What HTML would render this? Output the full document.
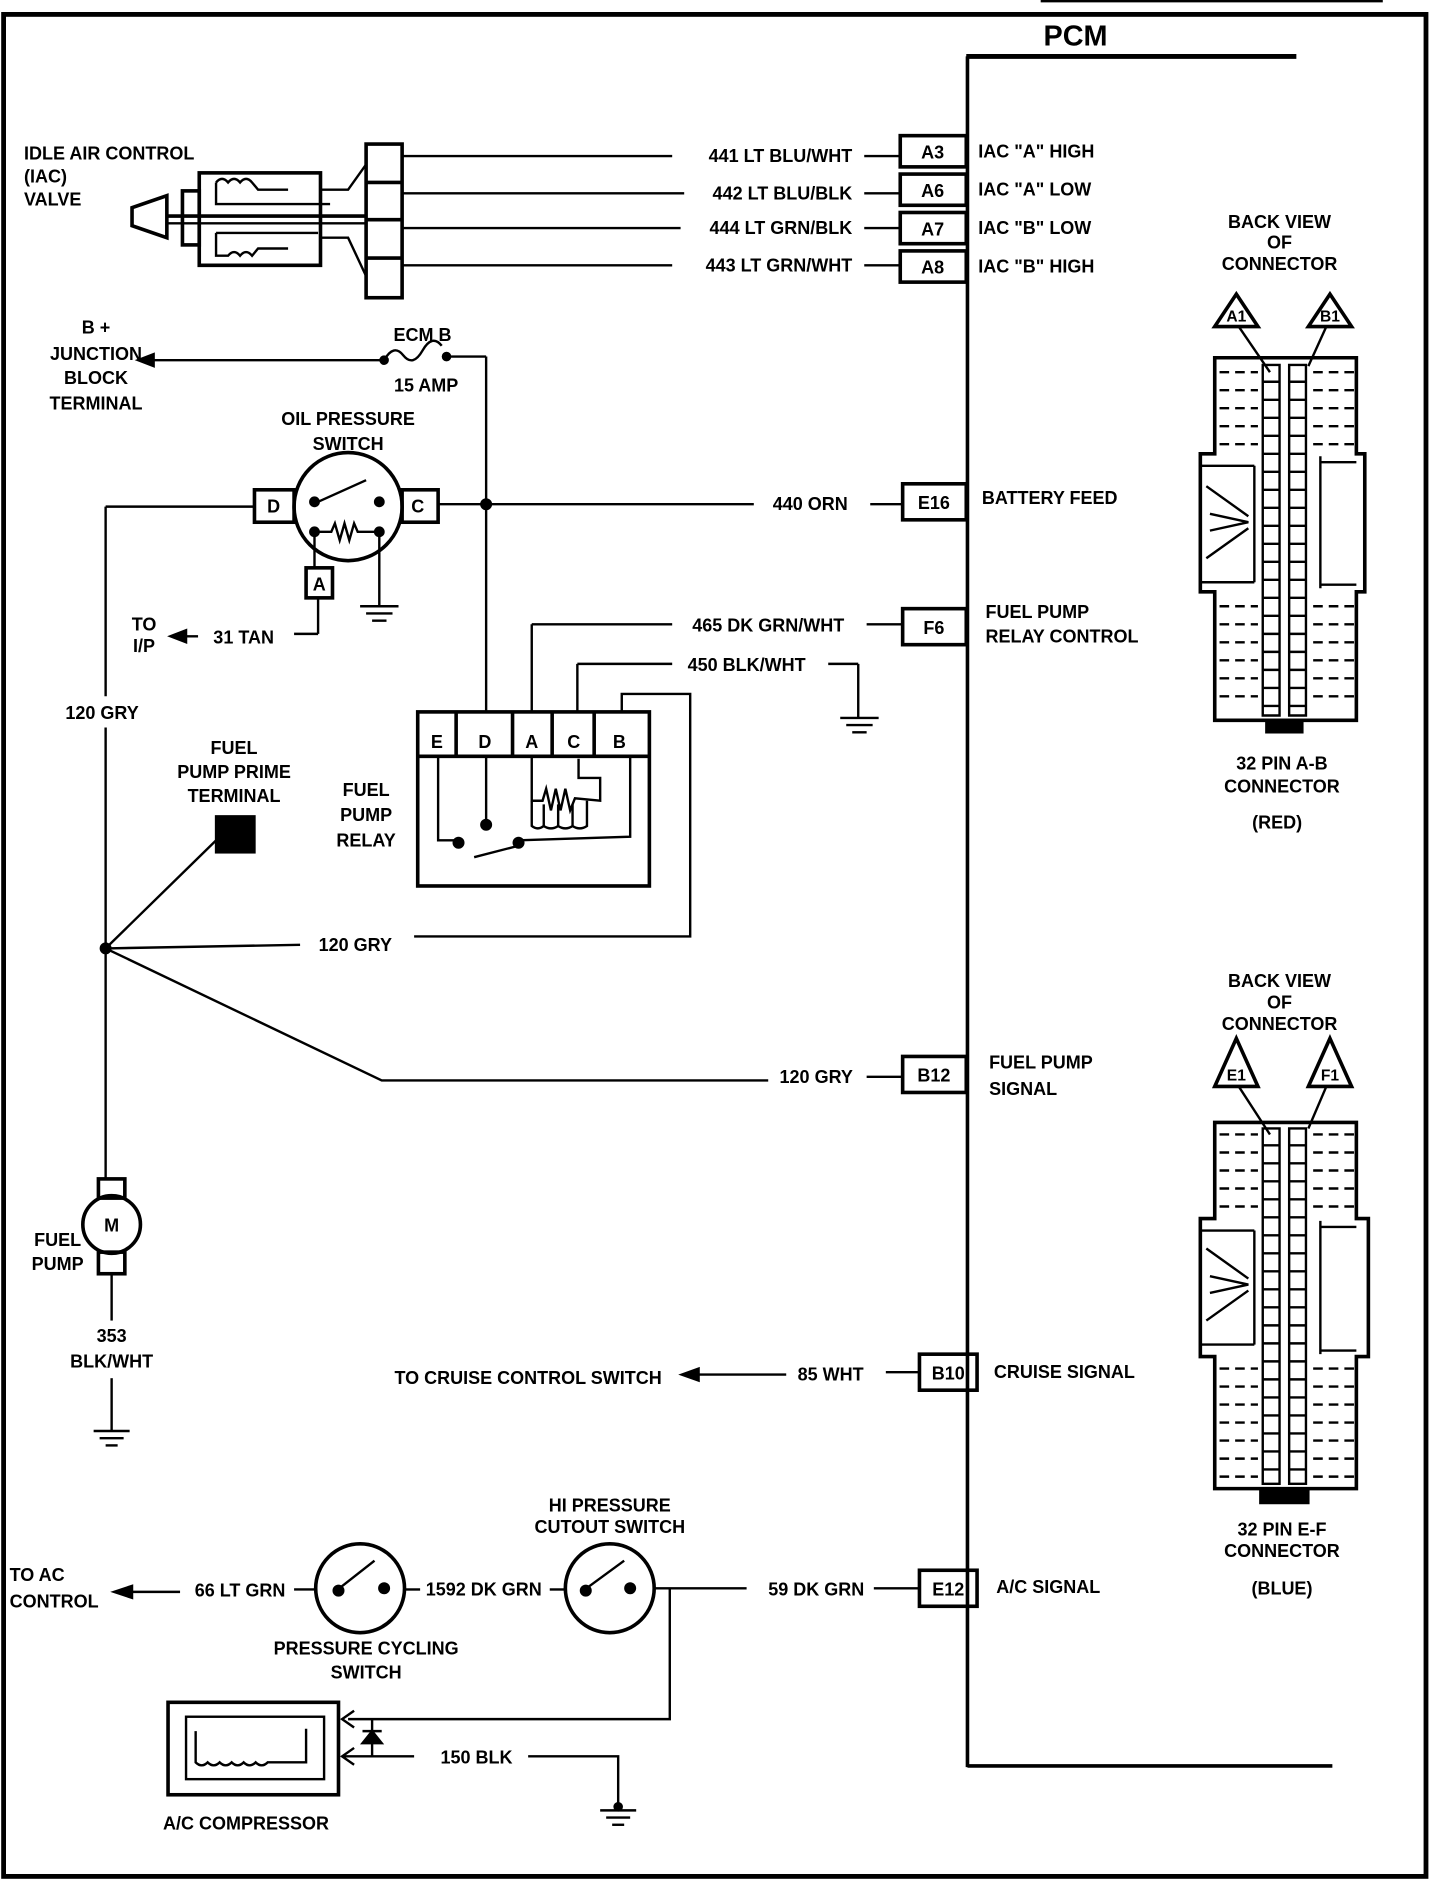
<!DOCTYPE html>
<html><head><meta charset="utf-8"><style>
html,body{margin:0;padding:0;background:#fff;}
svg{display:block;}
text{font-family:"Liberation Sans",sans-serif;font-weight:bold;font-size:15px;fill:#000;}
</style></head><body>
<svg width="1456" height="1886" viewBox="0 0 1213 1571" preserveAspectRatio="none" xmlns="http://www.w3.org/2000/svg">
<g fill="none" stroke="#000" stroke-width="2">
<rect x="3" y="12" width="1185" height="1551" stroke-width="4"/>
<line x1="867" y1="1" x2="1152" y2="1" stroke-width="2"/>
<line x1="805" y1="47" x2="1080" y2="47" stroke-width="4"/>
<line x1="806" y1="47" x2="806" y2="1472" stroke-width="3"/>
<line x1="806" y1="1471" x2="1110" y2="1471" stroke-width="3"/>
<rect x="750" y="113" width="55" height="26" stroke-width="3"/>
<rect x="750" y="145" width="55" height="26" stroke-width="3"/>
<rect x="750" y="177" width="55" height="26" stroke-width="3"/>
<rect x="750" y="209" width="55" height="26" stroke-width="3"/>
<rect x="752" y="403" width="53" height="30" stroke-width="3"/>
<rect x="752" y="507" width="53" height="30" stroke-width="3"/>
<rect x="752" y="880" width="53" height="30" stroke-width="3"/>
<rect x="766" y="1128" width="48" height="30" stroke-width="3"/>
<rect x="766" y="1308" width="48" height="30" stroke-width="3"/>
<line x1="335" y1="130" x2="560" y2="130"/><line x1="720" y1="130" x2="750" y2="130"/>
<line x1="335" y1="161" x2="570" y2="161"/><line x1="720" y1="161" x2="750" y2="161"/>
<line x1="335" y1="190" x2="567" y2="190"/><line x1="720" y1="190" x2="750" y2="190"/>
<line x1="335" y1="221" x2="560" y2="221"/><line x1="720" y1="221" x2="750" y2="221"/>
<rect x="305" y="120" width="30" height="128" stroke-width="3"/>
<line x1="305" y1="152" x2="335" y2="152" stroke-width="3"/>
<line x1="305" y1="183" x2="335" y2="183" stroke-width="3"/>
<line x1="305" y1="215" x2="335" y2="215" stroke-width="3"/>
<rect x="166" y="144" width="101" height="77" stroke-width="3"/>
<rect x="152" y="159" width="14" height="45" stroke-width="3"/>
<polygon points="139,163 139,198 110,188 110,173" stroke-width="3"/>
<line x1="139" y1="180" x2="305" y2="180" stroke-width="3"/>
<line x1="139" y1="186" x2="305" y2="186" stroke-width="2"/>
<path d="M180,152 L180,170 L275,170" stroke-width="2"/>
<path d="M180,152 q5,-6 10,0 q5,-6 10,0 q5,-6 10,0 l5,6 l25,0" stroke-width="2"/>
<path d="M267,158 L290,158 L305,137"/>
<path d="M180,194 L180,213 l10,0 q5,-6 10,0 q5,-6 10,0 l5,-6 l25,-0" stroke-width="2"/>
<path d="M180,194 L265,194"/>
<path d="M267,198 L290,198 L305,230"/>
<line x1="120" y1="300" x2="320" y2="300"/>
<polygon points="115,300 128,295 128,305" fill="#000"/>
<path d="M320,300 q8,-14 16,-4 t16,-4 t16,-4" />
<circle cx="320" cy="300" r="3" fill="#000"/><circle cx="372" cy="297" r="3" fill="#000"/>
<line x1="372" y1="297" x2="405" y2="297"/>
<line x1="405" y1="297" x2="405" y2="593"/>
<circle cx="405" cy="420" r="4" fill="#000"/>
<circle cx="290" cy="422" r="45" stroke-width="3"/>
<rect x="212" y="408" width="33" height="27" stroke-width="3"/>
<rect x="335" y="408" width="30" height="27" stroke-width="3"/>
<rect x="255" y="473" width="22" height="25" stroke-width="3"/>
<circle cx="262" cy="418" r="3.5" fill="#000"/><circle cx="316" cy="418" r="3.5" fill="#000"/>
<line x1="265" y1="418" x2="305" y2="400"/>
<circle cx="262" cy="443" r="3.5" fill="#000"/><circle cx="316" cy="443" r="3.5" fill="#000"/>
<path d="M262,443 L276,443 l3,-7 l4,14 l4,-14 l4,14 l4,-14 l3,7 L316,443"/>
<line x1="262" y1="443" x2="262" y2="473"/>
<line x1="316" y1="443" x2="316" y2="505"/>
<line x1="300" y1="505" x2="332" y2="505"/><line x1="305" y1="511" x2="327" y2="511"/><line x1="310" y1="517" x2="322" y2="517"/>
<line x1="365" y1="420" x2="628" y2="420"/><line x1="725" y1="420" x2="752" y2="420"/>
<line x1="212" y1="422" x2="88" y2="422"/>
<line x1="88" y1="422" x2="88" y2="580"/>
<line x1="88" y1="606" x2="88" y2="982"/>
<line x1="265" y1="498" x2="265" y2="528"/><line x1="265" y1="528" x2="245" y2="528"/>
<line x1="150" y1="530" x2="165" y2="530"/><polygon points="142,530 155,525 155,535" fill="#000"/>
<line x1="443" y1="520" x2="560" y2="520"/><line x1="443" y1="520" x2="443" y2="593"/>
<line x1="722" y1="520" x2="752" y2="520"/>
<line x1="481" y1="553" x2="560" y2="553"/><line x1="481" y1="553" x2="481" y2="593"/>
<line x1="690" y1="553" x2="715" y2="553"/><line x1="715" y1="553" x2="715" y2="598"/>
<line x1="700" y1="598" x2="732" y2="598"/><line x1="705" y1="604" x2="727" y2="604"/><line x1="710" y1="610" x2="722" y2="610"/>
<rect x="348" y="593" width="193" height="145" stroke-width="3"/>
<line x1="348" y1="630" x2="541" y2="630" stroke-width="3"/>
<line x1="380" y1="593" x2="380" y2="630" stroke-width="3"/>
<line x1="427" y1="593" x2="427" y2="630" stroke-width="3"/>
<line x1="460" y1="593" x2="460" y2="630" stroke-width="3"/>
<line x1="495" y1="593" x2="495" y2="630" stroke-width="3"/>
<path d="M365,630 L365,700 L380,700"/><circle cx="382" cy="702" r="4" fill="#000"/>
<line x1="405" y1="630" x2="405" y2="687"/><circle cx="405" cy="687" r="4" fill="#000"/>
<line x1="395" y1="714" x2="430" y2="705"/><circle cx="432" cy="702" r="4" fill="#000"/>
<path d="M432,700 L525,697 L525,630"/>
<path d="M518,593 L518,578 L575,578 L575,780 L345,780"/>
<path d="M443,630 L443,667 L452,667 l3,-10 l4,18 l4,-18 l4,18 l4,-18 l4,18 l4,-10 L500,667 L500,648 L482,648 L482,632"/>
<path d="M443,667 L443,688 q5,4 10,0 l0,-18 m0,18 q6,4 12,0 l0,-18 m0,18 q6,4 12,0 l0,-18 m0,18 q6,4 12,0 L489,667"/>
<circle cx="88" cy="790" r="4" fill="#000"/>
<line x1="88" y1="790" x2="250" y2="787"/>
<line x1="88" y1="790" x2="180" y2="700"/>
<rect x="180" y="680" width="32" height="30" fill="#000"/>
<path d="M88,790 L318,900 L640,900"/>
<line x1="722" y1="897" x2="752" y2="897"/>
<circle cx="93" cy="1020" r="24" stroke-width="3"/>
<rect x="82" y="982" width="22" height="16" stroke-width="3"/>
<rect x="82" y="1043" width="22" height="18" stroke-width="3"/>
<line x1="93" y1="1061" x2="93" y2="1100"/>
<line x1="93" y1="1148" x2="93" y2="1192"/>
<line x1="78" y1="1192" x2="108" y2="1192"/><line x1="83" y1="1198" x2="103" y2="1198"/><line x1="88" y1="1204" x2="98" y2="1204"/>
<line x1="578" y1="1145" x2="655" y2="1145"/><polygon points="568,1145 582,1140 582,1150" fill="#000"/>
<line x1="738" y1="1143" x2="766" y2="1143"/>
<line x1="545" y1="1323" x2="622" y2="1323"/><line x1="728" y1="1323" x2="766" y2="1323"/>
<circle cx="508" cy="1323" r="37" stroke-width="3"/>
<circle cx="488" cy="1325" r="4" fill="#000"/><circle cx="525" cy="1323" r="4" fill="#000"/>
<line x1="490" y1="1322" x2="520" y2="1300"/>
<line x1="458" y1="1324" x2="471" y2="1324"/>
<circle cx="300" cy="1323" r="37" stroke-width="3"/>
<circle cx="282" cy="1325" r="4" fill="#000"/><circle cx="320" cy="1323" r="4" fill="#000"/>
<line x1="284" y1="1322" x2="312" y2="1300"/>
<line x1="337" y1="1324" x2="350" y2="1324"/>
<line x1="245" y1="1324" x2="263" y2="1324"/>
<line x1="105" y1="1326" x2="150" y2="1326"/><polygon points="95,1326 110,1321 110,1331" fill="#000"/>
<path d="M558,1323 L558,1432 L290,1432"/>
<path d="M295,1425 L285,1432 L295,1439"/>
<rect x="140" y="1418" width="142" height="77" stroke-width="3"/>
<rect x="155" y="1430" width="115" height="52" stroke-width="2"/>
<path d="M163,1442 L163,1468 q5,5 10,0 q5,5 10,0 q5,5 10,0 q5,5 10,0 q5,5 10,0 q5,5 10,0 L255,1468 L255,1440"/>
<line x1="310" y1="1432" x2="310" y2="1463"/>
<polygon points="302,1452 318,1452 310,1442" fill="#000"/><line x1="302" y1="1442" x2="318" y2="1442"/>
<line x1="285" y1="1463" x2="345" y2="1463"/><path d="M295,1456 L285,1463 L295,1470"/>
<path d="M440,1463 L515,1463 L515,1505"/>
<circle cx="515" cy="1505" r="3" fill="#000"/>
<line x1="500" y1="1508" x2="530" y2="1508"/><line x1="505" y1="1514" x2="525" y2="1514"/><line x1="510" y1="1520" x2="520" y2="1520"/>
</g>

<g fill="none" stroke="#000" stroke-width="3">
<polygon points="1030,245 1048,272 1012,272"/>
<polygon points="1108,245 1126,272 1090,272"/>
<line x1="1032" y1="272" x2="1058" y2="310" stroke-width="2"/>
<line x1="1105" y1="272" x2="1090" y2="305" stroke-width="2"/>
<path d="M1012,298 L1130,298 L1130,378 L1137,378 L1137,493 L1130,493 L1130,600 L1012,600 L1012,493 L1000,493 L1000,378 L1012,378 Z"/>
<path d="M1000,388 L1045,388 M1000,485 L1045,485 M1045,388 L1045,485" stroke-width="2"/>
<path d="M1005,405 L1040,430 M1005,465 L1040,440 M1008,428 L1040,435 L1008,442" stroke-width="2"/>
<path d="M1100,380 L1100,490 M1100,385 L1130,385 M1100,487 L1130,487" stroke-width="2"/>
<polygon points="1030,865 1048,905 1012,905"/>
<polygon points="1108,865 1126,905 1090,905"/>
<line x1="1032" y1="905" x2="1058" y2="945" stroke-width="2"/>
<line x1="1105" y1="905" x2="1090" y2="940" stroke-width="2"/>
<path d="M1012,935 L1130,935 L1130,1015 L1140,1015 L1140,1130 L1130,1130 L1130,1240 L1012,1240 L1012,1130 L1000,1130 L1000,1015 L1012,1015 Z"/>
<path d="M1000,1025 L1045,1025 M1000,1120 L1045,1120 M1045,1025 L1045,1120" stroke-width="2"/>
<path d="M1005,1040 L1040,1065 M1005,1100 L1040,1075 M1008,1063 L1040,1070 L1008,1077" stroke-width="2"/>
<path d="M1100,1017 L1100,1128 M1100,1022 L1130,1022 M1100,1125 L1130,1125" stroke-width="2"/>
</g>
<g fill="none" stroke="#000" stroke-width="2" stroke-dasharray="8,5">
<path d="M1016,310 H1048 M1016,325 H1048 M1016,340 H1048 M1016,355 H1048 M1016,370 H1048 M1094,310 H1128 M1094,325 H1128 M1094,340 H1128 M1094,355 H1128 M1094,370 H1128 M1016,505 H1048 M1016,520 H1048 M1016,535 H1048 M1016,550 H1048 M1016,565 H1048 M1016,580 H1048 M1094,505 H1128 M1094,520 H1128 M1094,535 H1128 M1094,550 H1128 M1094,565 H1128 M1094,580 H1128"/>
<path d="M1016,945 H1048 M1016,960 H1048 M1016,975 H1048 M1016,990 H1048 M1016,1005 H1048 M1094,945 H1128 M1094,960 H1128 M1094,975 H1128 M1094,990 H1128 M1094,1005 H1128 M1016,1140 H1048 M1016,1155 H1048 M1016,1170 H1048 M1016,1185 H1048 M1016,1200 H1048 M1016,1215 H1048 M1016,1230 H1048 M1094,1140 H1128 M1094,1155 H1128 M1094,1170 H1128 M1094,1185 H1128 M1094,1200 H1128 M1094,1215 H1128 M1094,1230 H1128"/>
</g>
<g fill="none" stroke="#000" stroke-width="2">
<path d="M1052,304 h14 v292 h-14 z M1074,304 h14 v292 h-14 z M1052,318H1066M1052,333H1066M1052,348H1066M1052,363H1066M1052,378H1066M1052,393H1066M1052,408H1066M1052,423H1066M1052,438H1066M1052,453H1066M1052,468H1066M1052,483H1066M1052,498H1066M1052,513H1066M1052,528H1066M1052,543H1066M1052,558H1066M1052,573H1066M1052,588H1066 M1074,318H1088M1074,333H1088M1074,348H1088M1074,363H1088M1074,378H1088M1074,393H1088M1074,408H1088M1074,423H1088M1074,438H1088M1074,453H1088M1074,468H1088M1074,483H1088M1074,498H1088M1074,513H1088M1074,528H1088M1074,543H1088M1074,558H1088M1074,573H1088M1074,588H1088"/>
<path d="M1052,940 h14 v296 h-14 z M1074,940 h14 v296 h-14 z M1052,954H1066M1052,969H1066M1052,984H1066M1052,999H1066M1052,1014H1066M1052,1029H1066M1052,1044H1066M1052,1059H1066M1052,1074H1066M1052,1089H1066M1052,1104H1066M1052,1119H1066M1052,1134H1066M1052,1149H1066M1052,1164H1066M1052,1179H1066M1052,1194H1066M1052,1209H1066M1052,1224H1066 M1074,954H1088M1074,969H1088M1074,984H1088M1074,999H1088M1074,1014H1088M1074,1029H1088M1074,1044H1088M1074,1059H1088M1074,1074H1088M1074,1089H1088M1074,1104H1088M1074,1119H1088M1074,1134H1088M1074,1149H1088M1074,1164H1088M1074,1179H1088M1074,1194H1088M1074,1209H1088M1074,1224H1088"/>
<rect x="1055" y="600" width="30" height="10" fill="#000"/>
<rect x="1050" y="1240" width="40" height="12" fill="#000"/>
</g>

<text x="896" y="38" text-anchor="middle" style="font-size:24px">PCM</text>
<text x="20" y="133">IDLE AIR CONTROL</text>
<text x="20" y="152">(IAC)</text>
<text x="20" y="171">VALVE</text>
<g text-anchor="end">
<text x="710" y="135">441  LT BLU/WHT</text>
<text x="710" y="166">442 LT BLU/BLK</text>
<text x="710" y="195">444 LT GRN/BLK</text>
<text x="710" y="226">443 LT GRN/WHT</text>
</g>
<g text-anchor="middle">
<text x="777" y="132">A3</text><text x="777" y="164">A6</text><text x="777" y="196">A7</text><text x="777" y="228">A8</text>
<text x="778" y="424">E16</text><text x="778" y="528">F6</text><text x="778" y="901">B12</text>
<text x="790" y="1149">B10</text><text x="790" y="1329">E12</text>
</g>
<text x="815" y="131">IAC "A" HIGH</text>
<text x="815" y="163">IAC "A" LOW</text>
<text x="815" y="195">IAC "B" LOW</text>
<text x="815" y="227">IAC "B" HIGH</text>
<text x="818" y="420">BATTERY FEED</text>
<text x="821" y="515">FUEL PUMP</text>
<text x="821" y="535">RELAY CONTROL</text>
<text x="824" y="890">FUEL PUMP</text>
<text x="824" y="912">SIGNAL</text>
<text x="828" y="1148">CRUISE SIGNAL</text>
<text x="830" y="1327">A/C SIGNAL</text>
<g text-anchor="middle">
<text x="1066" y="190">BACK VIEW</text><text x="1066" y="207">OF</text><text x="1066" y="225">CONNECTOR</text>
<text x="1030" y="268" style="font-size:13px">A1</text><text x="1108" y="268" style="font-size:13px">B1</text>
<text x="1068" y="641">32  PIN A-B</text><text x="1068" y="660">CONNECTOR</text><text x="1064" y="690">(RED)</text>
<text x="1066" y="822">BACK VIEW</text><text x="1066" y="840">OF</text><text x="1066" y="858">CONNECTOR</text>
<text x="1030" y="900" style="font-size:13px">E1</text><text x="1108" y="900" style="font-size:13px">F1</text>
<text x="1068" y="1279">32  PIN E-F</text><text x="1068" y="1297">CONNECTOR</text><text x="1068" y="1328">(BLUE)</text>
<text x="80" y="278">B +</text><text x="80" y="300">JUNCTION</text><text x="80" y="320">BLOCK</text><text x="80" y="341">TERMINAL</text>
<text x="290" y="354">OIL PRESSURE</text><text x="290" y="375">SWITCH</text>
<text x="195" y="628">FUEL</text><text x="195" y="648">PUMP PRIME</text><text x="195" y="668">TERMINAL</text>
<text x="305" y="663">FUEL</text><text x="305" y="684">PUMP</text><text x="305" y="705">RELAY</text>
<text x="48" y="1038">FUEL</text><text x="48" y="1058">PUMP</text>
<text x="93" y="1118">353</text><text x="93" y="1139">BLK/WHT</text>
<text x="508" y="1259">HI PRESSURE</text><text x="508" y="1277">CUTOUT SWITCH</text>
<text x="305" y="1378">PRESSURE  CYCLING</text><text x="305" y="1398">SWITCH</text>
<text x="205" y="1524">A/C COMPRESSOR</text>
</g>
<text x="352" y="284" text-anchor="middle">ECM B</text>
<text x="355" y="326" text-anchor="middle">15 AMP</text>
<text x="228" y="427" text-anchor="middle">D</text>
<text x="348" y="427" text-anchor="middle">C</text>
<text x="266" y="492" text-anchor="middle">A</text>
<text x="675" y="425" text-anchor="middle">440 ORN</text>
<text x="120" y="525" text-anchor="middle">TO</text><text x="120" y="543" text-anchor="middle">I/P</text>
<text x="203" y="536" text-anchor="middle">31 TAN</text>
<text x="85" y="599" text-anchor="middle">120 GRY</text>
<text x="640" y="526" text-anchor="middle">465 DK GRN/WHT</text>
<text x="622" y="559" text-anchor="middle">450 BLK/WHT</text>
<g text-anchor="middle">
<text x="364" y="623">E</text><text x="404" y="623">D</text><text x="443" y="623">A</text><text x="478" y="623">C</text><text x="516" y="623">B</text>
</g>
<text x="296" y="792" text-anchor="middle">120 GRY</text>
<text x="680" y="902" text-anchor="middle">120 GRY</text>
<text x="93" y="1026" text-anchor="middle">M</text>
<text x="440" y="1153" text-anchor="middle">TO CRUISE CONTROL SWITCH</text>
<text x="692" y="1150" text-anchor="middle">85 WHT</text>
<text x="680" y="1329" text-anchor="middle">59 DK GRN</text>
<text x="403" y="1329" text-anchor="middle">1592 DK GRN</text>
<text x="200" y="1330" text-anchor="middle">66 LT GRN</text>
<text x="8" y="1317">TO  AC</text><text x="8" y="1339">CONTROL</text>
<text x="397" y="1469" text-anchor="middle">150 BLK</text>
</svg>
</body></html>
